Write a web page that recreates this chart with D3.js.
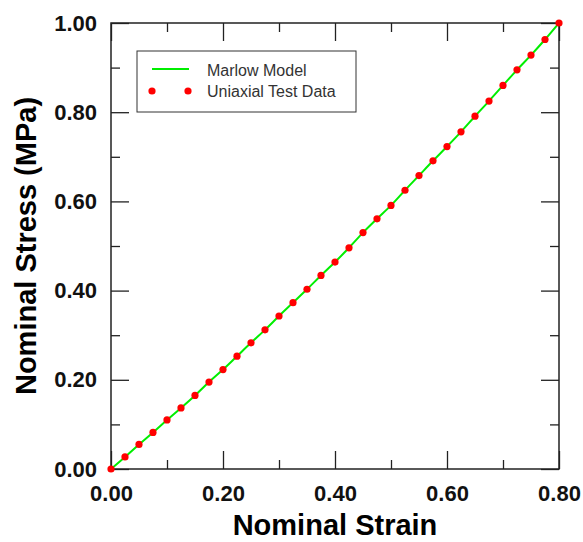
<!DOCTYPE html>
<html>
<head>
<meta charset="utf-8">
<script src="https://cdn.jsdelivr.net/npm/d3@7"></script>
<style>
  body { margin: 0; background: #fff; }
  svg { display: block; font-family: "Liberation Sans", Arial, sans-serif; }
</style>
</head>
<body>
<div id="chart"></div>
<script>
// uniaxial test data
const strain = [0, 0.025, 0.05, 0.075, 0.1, 0.125, 0.15, 0.175, 0.2, 0.225, 0.25, 0.275, 0.3,
  0.325, 0.35, 0.375, 0.4, 0.425, 0.45, 0.475, 0.5, 0.525, 0.55, 0.575, 0.6, 0.625, 0.65,
  0.675, 0.7, 0.725, 0.75, 0.775, 0.8];
const stress = [0, 0.027, 0.055, 0.082, 0.110, 0.137, 0.165, 0.195, 0.223, 0.253, 0.283, 0.312, 0.343,
  0.373, 0.403, 0.434, 0.464, 0.496, 0.530, 0.561, 0.591, 0.625, 0.658, 0.691, 0.723, 0.756, 0.791,
  0.825, 0.860, 0.895, 0.928, 0.963, 1.0];

const xTicks = [0, 0.2, 0.4, 0.6, 0.8];
const xMinor = [0.1, 0.3, 0.5, 0.7];
const yTicks = [0, 0.2, 0.4, 0.6, 0.8, 1.0];
const yMinor = [0.1, 0.3, 0.5, 0.7, 0.9];

const seriesNames = ["Marlow Model", "Uniaxial Test Data"];

const data = strain.map((s, i) => ({ x: s, y: stress[i] }));

const W = 583, H = 542;
const margin = { top: 23, right: 24, bottom: 73, left: 111 };
const width = W - margin.left - margin.right;
const height = H - margin.top - margin.bottom;

const svg = d3.select("#chart").append("svg")
    .attr("width", W)
    .attr("height", H);

const g = svg.append("g")
    .attr("transform", `translate(${margin.left},${margin.top})`);

const x = d3.scaleLinear().domain([0, 0.8]).range([0, width]);
const y = d3.scaleLinear().domain([0, 1]).range([height, 0]);

const fmt = d3.format(".2f");
const axisColor = "#222";

// axes with ticks pointing inward, major + minor
function drawAxis(axisFn, scale, major, minor, transform, labels) {
  const a = g.append("g").attr("transform", transform);
  a.call(axisFn(scale).tickValues(major).tickSizeInner(-18).tickSizeOuter(0)
      .tickPadding(axisFn === d3.axisBottom ? 16 : 14)
      .tickFormat(labels ? fmt : () => ""));
  a.append("g").call(axisFn(scale).tickValues(minor).tickSizeInner(-9).tickSizeOuter(0).tickFormat(() => ""))
    .select(".domain").remove();
  a.selectAll("line").attr("stroke", axisColor).attr("stroke-width", 1.3);
  a.select(".domain").attr("stroke", "none");
  a.selectAll("text")
    .attr("fill", "#111")
    .style("font-size", "22px")
    .style("font-weight", "bold");
  return a;
}

drawAxis(d3.axisBottom, x, xTicks, xMinor, `translate(0,${height})`, true);
drawAxis(d3.axisTop, x, xTicks, xMinor, "translate(0,0)", false);
drawAxis(d3.axisLeft, y, yTicks, yMinor, "translate(0,0)", true);
drawAxis(d3.axisRight, y, yTicks, yMinor, `translate(${width},0)`, false);

// frame
g.append("rect")
    .attr("width", width)
    .attr("height", height)
    .attr("fill", "none")
    .attr("stroke", axisColor)
    .attr("stroke-width", 1.5);

// Marlow model curve
const line = d3.line()
    .x(d => x(d.x))
    .y(d => y(d.y))
    .curve(d3.curveMonotoneX);

g.append("path")
    .datum(data)
    .attr("fill", "none")
    .attr("stroke", "#00ee00")
    .attr("stroke-width", 2)
    .attr("d", line);

// test data points
g.selectAll(".pt")
    .data(data)
    .enter().append("circle")
    .attr("class", "pt")
    .attr("cx", d => x(d.x))
    .attr("cy", d => y(d.y))
    .attr("r", 3.6)
    .attr("fill", "#ff0000");

// axis titles
svg.append("text")
    .attr("x", margin.left + width / 2)
    .attr("y", 535)
    .attr("text-anchor", "middle")
    .style("font-size", "29px")
    .style("font-weight", "bold")
    .attr("fill", "#000")
    .text("Nominal Strain");

svg.append("text")
    .attr("transform", `translate(36,${margin.top + height / 2}) rotate(-90)`)
    .attr("text-anchor", "middle")
    .style("font-size", "29px")
    .style("font-weight", "bold")
    .attr("fill", "#000")
    .text("Nominal Stress (MPa)");

// legend
const legend = svg.append("g").attr("transform", "translate(137,51)");
legend.append("rect")
    .attr("width", 219)
    .attr("height", 61)
    .attr("fill", "#fff")
    .attr("stroke", "#333")
    .attr("stroke-width", 1);
legend.append("line")
    .attr("x1", 15).attr("x2", 52)
    .attr("y1", 18).attr("y2", 18)
    .attr("stroke", "#00ee00")
    .attr("stroke-width", 2);
legend.selectAll(".ldot")
    .data([15, 51])
    .enter().append("circle")
    .attr("cx", d => d)
    .attr("cy", 40)
    .attr("r", 3.6)
    .attr("fill", "#ff0000");
legend.selectAll(".ltext")
    .data(seriesNames)
    .enter().append("text")
    .attr("x", 70)
    .attr("y", (d, i) => 25 + i * 21)
    .style("font-size", "16px")
    .attr("fill", "#333")
    .text(d => d);
</script>
</body>
</html>
